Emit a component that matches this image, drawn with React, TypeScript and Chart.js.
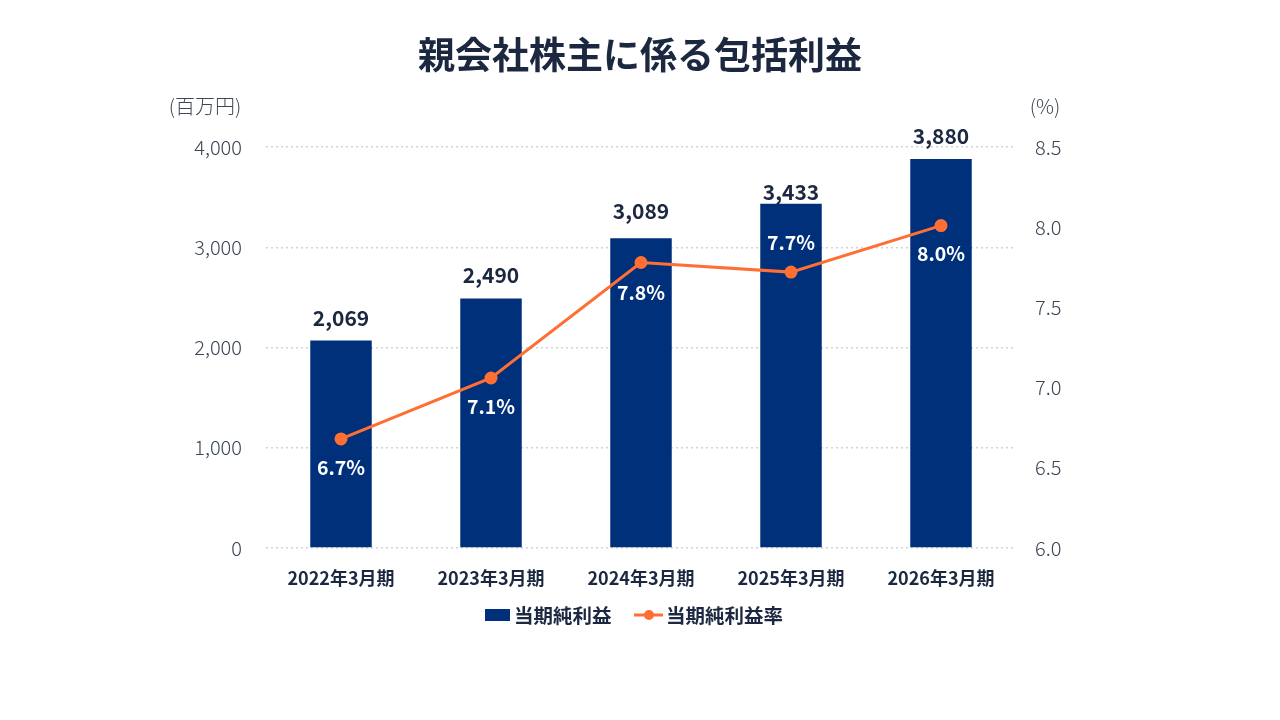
import { useRef, useEffect } from "react";
import { Chart, registerables } from "chart.js";

Chart.register(...registerables);

const categories = ["2022年3月期", "2023年3月期", "2024年3月期", "2025年3月期", "2026年3月期"];
const profit = [2069, 2490, 3089, 3433, 3880];
const profitRate = [6.68, 7.06, 7.78, 7.72, 8.01];
const rateLabels = ["6.7%", "7.1%", "7.8%", "7.7%", "8.0%"];

// label offsets (px) from bar top / line point
const barLabelOffset = [-23, -23, -27, -12, -23];
const rateLabelOffset = [29, 29, 30, -30, 28];

const NAVY = "#00307a";
const ORANGE = "#ff6f33";
const TEXT = "#1c2840";
const TICK = "#3c4654";
const FONT = "'Noto Sans CJK JP', 'Noto Sans', sans-serif";

const overlay = {
  id: "overlay",
  afterDatasetsDraw(chart: any) {
    const { ctx } = chart;
    ctx.save();
    ctx.textAlign = "center";
    ctx.textBaseline = "middle";

    // title
    ctx.fillStyle = TEXT;
    ctx.font = `bold 37px ${FONT}`;
    ctx.fillText("親会社株主に係る包括利益", 640, 55);

    // units
    ctx.fillStyle = TICK;
    ctx.font = `300 20px ${FONT}`;
    ctx.fillText("(百万円)", 205, 106);
    ctx.fillText("(%)", 1045, 106);

    // bar values
    const bars = chart.getDatasetMeta(0).data;
    ctx.fillStyle = TEXT;
    ctx.font = `bold 21px ${FONT}`;
    bars.forEach((b: any, i: number) => {
      ctx.fillText(profit[i].toLocaleString("en-US"), b.x, b.y + barLabelOffset[i]);
    });

    // rate values
    const pts = chart.getDatasetMeta(1).data;
    ctx.fillStyle = "#ffffff";
    ctx.font = `bold 19.5px ${FONT}`;
    pts.forEach((p: any, i: number) => {
      ctx.fillText(rateLabels[i], p.x, p.y + rateLabelOffset[i]);
    });

    // legend
    ctx.textAlign = "left";
    ctx.font = `bold 19.5px ${FONT}`;
    ctx.fillStyle = NAVY;
    ctx.fillRect(485, 609, 25, 12);
    ctx.fillStyle = TEXT;
    ctx.fillText("当期純利益", 514, 616);
    ctx.strokeStyle = ORANGE;
    ctx.lineWidth = 3;
    ctx.beginPath();
    ctx.moveTo(634, 615);
    ctx.lineTo(663, 615);
    ctx.stroke();
    ctx.fillStyle = ORANGE;
    ctx.beginPath();
    ctx.arc(649, 615, 5, 0, Math.PI * 2);
    ctx.fill();
    ctx.fillStyle = TEXT;
    ctx.fillText("当期純利益率", 666, 616);
    ctx.restore();
  },
};

export default function App() {
  const canvasRef = useRef<HTMLCanvasElement>(null);

  useEffect(() => {
    if (!canvasRef.current) return;
    const chart = new Chart(canvasRef.current, {
      type: "bar",
      data: {
        labels: categories,
        datasets: [
          {
            type: "bar",
            label: "当期純利益",
            data: profit,
            backgroundColor: NAVY,
            yAxisID: "y",
            barPercentage: 0.41,
            categoryPercentage: 1,
            order: 2,
          },
          {
            type: "line",
            label: "当期純利益率",
            data: profitRate,
            borderColor: ORANGE,
            backgroundColor: ORANGE,
            borderWidth: 3,
            pointRadius: 5,
            pointHoverRadius: 5,
            yAxisID: "y1",
            order: 1,
          },
        ],
      },
      options: {
        animation: false,
        responsive: false,
        maintainAspectRatio: false,
        layout: { padding: { top: 147, left: 0, right: 0, bottom: 0 } },
        plugins: {
          legend: { display: false },
          tooltip: { enabled: false },
          title: { display: false },
        },
        scales: {
          x: {
            grid: { display: false, drawTicks: false },
            border: { display: false },
            ticks: {
              color: TEXT,
              font: { family: FONT, size: 18, weight: "bold" },
              padding: 19,
            },
            afterFit: (s: any) => {
              s.height = 172;
            },
          },
          y: {
            position: "left",
            min: 0,
            max: 4000,
            grid: {
              color: "#cfd3d8",
              lineWidth: 1.5,
              drawTicks: false,
            },
            border: { display: false, dash: [2, 3] },
            ticks: {
              stepSize: 1000,
              color: TICK,
              font: { family: FONT, size: 20, weight: 300 },
              padding: 24,
              callback: (v: any) => Number(v).toLocaleString("en-US"),
            },
            afterFit: (s: any) => {
              s.width = 266;
            },
          },
          y1: {
            position: "right",
            min: 6,
            max: 8.5,
            grid: { display: false, drawTicks: false },
            border: { display: false },
            ticks: {
              stepSize: 0.5,
              color: TICK,
              font: { family: FONT, size: 20, weight: 300 },
              padding: 19,
              callback: (v: any) => Number(v).toFixed(1),
            },
            afterFit: (s: any) => {
              s.width = 264;
            },
          },
        },
      },
      plugins: [overlay],
    });
    return () => chart.destroy();
  }, []);

  return (
    <div style={{ position: "fixed", left: 0, top: 0, width: 1280, height: 720, background: "#fff" }}>
      <canvas ref={canvasRef} width={1280} height={720} style={{ width: 1280, height: 720 }} />
    </div>
  );
}
